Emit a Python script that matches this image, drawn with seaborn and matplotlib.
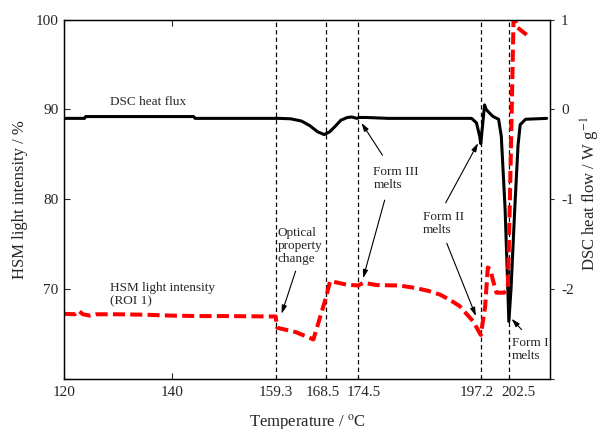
import numpy as np
import matplotlib
matplotlib.use("Agg")
import matplotlib.pyplot as plt
import matplotlib.transforms as mtransforms
import seaborn as sns

# DSC heat flow (W/g) vs temperature
dsc_t = [120, 123.8, 124.0, 144.0, 144.3, 160, 162, 164, 165.5, 167, 168.2, 169.2, 170.2, 171.3,
         172.5, 173.3, 174.3, 174.7, 176, 180, 190, 195.5, 196.4, 197.0, 197.2, 197.5, 197.9,
         198.2, 198.8, 199.5, 200.5, 201.0, 201.7, 202.1, 202.4, 202.8, 203.5, 204.1, 204.5,
         205.5, 209.4]
dsc_q = [-0.10, -0.10, -0.08, -0.08, -0.10, -0.10, -0.105, -0.13, -0.18, -0.25, -0.28, -0.25, -0.19, -0.12,
         -0.09, -0.085, -0.10, -0.09, -0.09, -0.10, -0.10, -0.10, -0.15, -0.30, -0.38, -0.20, 0.05,
         0.0, -0.04, -0.08, -0.11, -0.30, -1.10, -1.80, -2.36, -2.00, -1.10, -0.40, -0.17,
         -0.11, -0.10]

# HSM light intensity (%) vs temperature
hsm_t = [120, 122.0, 122.7, 123.5, 124.8, 126, 130, 135, 140, 145, 150, 159.2, 159.5, 163, 166.2,
         168.5, 169.3, 172.3, 174.5, 175.4, 178, 182.2, 185.3, 187.5, 189.6, 191.5, 193.3, 195.8,
         197.2, 198.0, 198.5, 199.0, 199.4, 200.1, 201.5, 202.2, 202.6, 203.0, 203.3, 203.8, 205.7]
hsm_i = [67.25, 67.2, 67.6, 67.2, 67.05, 67.2, 67.2, 67.15, 67.05, 67.0, 67.0, 66.95, 65.7, 65.2, 64.4,
         69.0, 70.9, 70.5, 70.4, 70.7, 70.45, 70.4, 70.1, 69.8, 69.4, 68.8, 68.1, 66.4,
         64.9, 68.0, 72.4, 72.2, 71.1, 69.6, 69.6, 70.0, 80.0, 92.0, 101.0, 99.2, 98.3]

events = [159.3, 168.5, 174.5, 197.2, 202.5]
event_labels = ["159.3", "168.5", "174.5", "197.2", "202.5"]
label_shift_px = [0, -3, 5.5, -4, 9]

sns.set_style("ticks")
plt.rcParams['font.family'] = ['Liberation Serif', 'DejaVu Serif']
plt.rcParams['mathtext.fontset'] = 'stix'

fig, ax = plt.subplots(figsize=(5.99, 4.29), dpi=100)
fig.subplots_adjust(left=0.1068, right=0.918, top=0.9545, bottom=0.1166)
ax2 = ax.twinx()
ax.set_zorder(ax2.get_zorder() + 1)
ax.patch.set_visible(False)

# DSC curve on right axis
sns.lineplot(x=dsc_t, y=dsc_q, ax=ax2, color='black', lw=2.2, sort=False, estimator=None)
# HSM curve on left axis
sns.lineplot(x=hsm_t, y=hsm_i, ax=ax, color='red', lw=2.9, sort=False, estimator=None,
             linestyle=(0, (3, 1.3)))

for x in events:
    ax.axvline(x, color='black', lw=0.9, ls=(0, (3.5, 2.5)), zorder=1)

ax.set_xlim(120, 210)
ax.set_ylim(60, 100)
ax2.set_ylim(-3, 1)

ax.set_xticks([120, 140])
ax.set_xticklabels(["120", "140"])
ax.set_xticks(events, minor=True)
ax.set_xticklabels(event_labels, minor=True)
ax.tick_params(axis='x', which='major', direction='in', length=4, top=True, labelsize=11, pad=5)
ax.tick_params(axis='x', which='minor', length=0, labelsize=11, pad=5)
# nudge crowded labels apart like in the original
for lab, dx in zip(ax.get_xticklabels(minor=True), label_shift_px):
    off = mtransforms.ScaledTranslation(dx / 100, 0, fig.dpi_scale_trans)
    lab.set_transform(lab.get_transform() + off)

ax.set_yticks([60, 70, 80, 90, 100])
ax.set_yticklabels(["", "70", "80", "90", "100"])
ax.tick_params(axis='y', direction='in', length=4, labelsize=11, pad=4)

ax2.set_yticks([-3, -2, -1, 0, 1])
ax2.set_yticklabels(["", "-2", "-1", "0", "1"])
ax2.tick_params(axis='y', direction='out', length=3, labelsize=11, pad=5)

for a in (ax, ax2):
    for s in a.spines.values():
        s.set_linewidth(0.9)
        s.set_color('black')

ax.set_xlabel("Temperature / $^{\\rm o}$C", fontsize=12)
ax.xaxis.set_label_coords(0.5, -0.092)
ax.set_ylabel("HSM light intensity / %", fontsize=12)
ax.yaxis.set_label_coords(-0.074, 0.5)
ax2.set_ylabel("DSC heat flow / W g$^{-1}$", fontsize=12)
ax2.yaxis.set_label_coords(1.060, 0.515)

fs = 9.5
ax.text(128.5, 90.8, "DSC heat flux", fontsize=fs, ha='left', va='center')
ax.text(128.5, 69.4, "HSM light intensity\n(ROI 1)", fontsize=fs, ha='left', va='center', linespacing=1.15)
ax.text(159.6, 74.8, "Optical\nproperty\nchange", fontsize=fs, ha='left', va='center', linespacing=1.1)
ax.text(177.3, 82.3, "Form III\nmelts", fontsize=fs, ha='left', va='center', linespacing=1.1)
ax.text(186.5, 77.3, "Form II\nmelts", fontsize=fs, ha='left', va='center', linespacing=1.1)
ax.text(203.0, 63.3, "Form I\nmelts", fontsize=fs, ha='left', va='center', linespacing=1.1)

arrows = [((162.9, 72.0), (160.3, 67.25)),
          ((179.0, 84.9), (175.1, 88.5)),
          ((179.4, 79.9), (175.4, 71.2)),
          ((190.7, 79.6), (196.7, 86.25)),
          ((190.9, 75.1), (196.3, 67.0)),
          ((204.75, 65.5), (202.9, 66.7))]
for tail, head in arrows:
    ax.annotate("", xy=head, xytext=tail,
                arrowprops=dict(arrowstyle='-|>,head_length=0.5,head_width=0.15',
                                color='black', lw=0.8, shrinkA=0, shrinkB=0))

plt.savefig("out.png", dpi=100)
